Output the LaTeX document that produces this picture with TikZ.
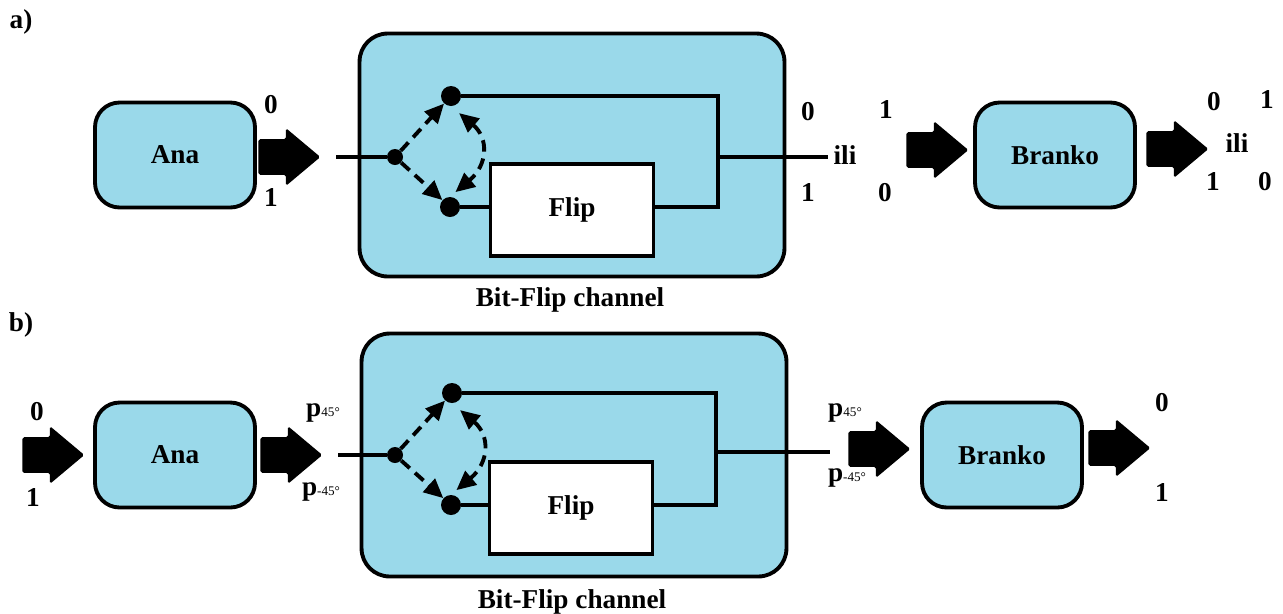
\documentclass[tikz,border=0pt]{standalone}
\usepackage{fontspec}
\setmainfont{Liberation Serif}
\usetikzlibrary{shapes.arrows,arrows.meta}
\definecolor{chanblue}{RGB}{154,217,234}
\newcommand{\polp}[1]{\textbf{p}{\mdseries\fontsize{7.5}{8}\selectfont #1}}
\tikzset{
  every node/.style={font=\bfseries\fontsize{15.5}{18}\selectfont},
  party/.style={draw, fill=chanblue, line width=2.2pt, rounded corners=14pt,
    minimum width=3.2cm, minimum height=2.1cm},
  channel/.style={draw, fill=chanblue, line width=2.2pt, rounded corners=16pt,
    minimum width=8.5cm, minimum height=4.86cm},
  flipbox/.style={draw, fill=white, line width=2.2pt, minimum width=3.26cm,
    minimum height=1.84cm},
  bigarrow/.style={single arrow, fill=black, anchor=tail, inner xsep=0pt,
    inner ysep=0.35cm, minimum height=1.24cm, single arrow head extend=0.22cm,
    single arrow tip angle=80, rounded corners=1pt},
  wire/.style={line width=2.2pt},
  dwire/.style={line width=2.2pt, dash pattern=on 6.5pt off 4pt,
    >={Triangle[length=11pt,width=10pt]}},
  bigdot/.style={circle, fill=black, minimum size=0.4cm, inner sep=0pt},
  smalldot/.style={circle, fill=black, minimum size=0.32cm, inner sep=0pt},
}
\begin{document}
\begin{tikzpicture}[x=0.02cm, y=-0.02cm]
\useasboundingbox (0,0) rectangle (1283,613);
% a) deterministic bits
\node (taga) at (21,22) {a)};
\node (anaa) [party] at (175,155) {Ana};
\node (ina0) at (271,105) {0};
\node (ina1) at (271,198) {1};
\node (arra1) [bigarrow] at (258,157) {};
\node (chana) [channel] at (572,155) {};
\node (capa) at (570,300) {Bit-Flip channel};
\coordinate (ia) at (336,157);
\node (ja) [smalldot] at (395,157) {};
\node (ta) [bigdot] at (451,96) {};
\node (ba) [bigdot] at (450,207) {};
\node (fa) [flipbox] at (572,210) {Flip};
\coordinate (ra) at (718,157);
\coordinate (oa) at (828,157);
\draw[wire] (ia) -- (ja);
\draw[wire] (ta) -| (ra |- ba) -- (ba -| fa.east);
\draw[wire] (ba) -- (ba -| fa.west);
\draw[wire] (ra) -- (oa);
\draw[dwire, ->] (ja) -- (ta);
\draw[dwire, ->] (ja) -- (ba);
\draw[dwire, <->, shorten <=6pt, shorten >=4pt] (ta.south) to[out=-40, in=40, looseness=1.4] (ba.north);
\node (ilia) at (845,155) {ili};
\node (outa00) at (808,112) {0};
\node (outa01) at (886,110) {1};
\node (outa10) at (808,193) {1};
\node (outa11) at (885,193) {0};
\node (arra2) [bigarrow] at (906,150) {};
\node (branka) [party] at (1055,155) {Branko};
\node (arra3) [bigarrow] at (1146,149) {};
\node (resa00) at (1214,102) {0};
\node (resa01) at (1267,100) {1};
\node (resili) at (1237,143) {ili};
\node (resa10) at (1213,182) {1};
\node (resa11) at (1265,182) {0};
% b) polarised photons
\node (tagb) at (21,325) {b)};
\node (inb0) at (37,412) {0};
\node (inb1) at (33,497) {1};
\node (arrb0) [bigarrow] at (22,455) {};
\node (anab) [party] at (175,455) {Ana};
\node (arrb1) [bigarrow] at (260,455) {};
\node (polb1) at (323,413) {\polp{45°}};
\node (polb2) at (321,492) {\polp{-45°}};
\node (chanb) [channel] at (574,455) {};
\node (capb) at (572,602) {Bit-Flip channel};
\coordinate (ib) at (338,455);
\node (jb) [smalldot] at (395,455) {};
\node (tb) [bigdot] at (452,393) {};
\node (bb) [bigdot] at (451,505) {};
\node (fb) [flipbox] at (571,508) {Flip};
\coordinate (rb) at (716,452);
\coordinate (ob) at (830,452);
\draw[wire] (ib) -- (jb);
\draw[wire] (tb) -| (rb |- bb) -- (bb -| fb.east);
\draw[wire] (bb) -- (bb -| fb.west);
\draw[wire] (rb) -- (ob);
\draw[dwire, ->] (jb) -- (tb);
\draw[dwire, ->] (jb) -- (bb);
\draw[dwire, <->, shorten <=6pt, shorten >=4pt] (tb.south) to[out=-40, in=40, looseness=1.4] (bb.north);
\node (polb3) at (845,413) {\polp{45°}};
\node (polb4) at (847,478) {\polp{-45°}};
\node (arrb2) [bigarrow] at (848,449) {};
\node (brankb) [party] at (1002,455) {Branko};
\node (arrb3) [bigarrow] at (1088,448) {};
\node (resb0) at (1162,403) {0};
\node (resb1) at (1162,492) {1};
\end{tikzpicture}
\end{document}
